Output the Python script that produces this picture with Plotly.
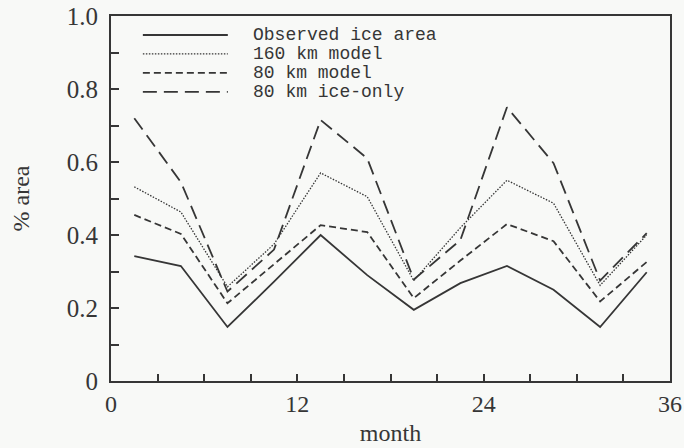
import plotly.graph_objects as go

months = [1.5, 4.5, 7.5, 10.5, 13.5, 16.5, 19.5, 22.5, 25.5, 28.5, 31.5, 34.5]
observed = [0.342, 0.315, 0.148, 0.272, 0.400, 0.290, 0.195, 0.268, 0.315, 0.250, 0.148, 0.298]
model_160 = [0.532, 0.463, 0.258, 0.375, 0.570, 0.505, 0.275, 0.420, 0.550, 0.487, 0.262, 0.400]
model_80 = [0.455, 0.403, 0.213, 0.320, 0.427, 0.408, 0.227, 0.330, 0.430, 0.383, 0.218, 0.326]
ice_only_80 = [0.720, 0.545, 0.245, 0.360, 0.715, 0.610, 0.278, 0.386, 0.750, 0.597, 0.275, 0.405]

series_names = ["Observed ice area", "160 km model", "80 km model", "80 km ice-only"]
x_tick_vals = list(range(0, 37, 3))
x_tick_text = [str(v) if v % 12 == 0 else "" for v in x_tick_vals]
y_tick_vals = [i / 10 for i in range(0, 11)]
y_tick_text = ["0", "", "0.2", "", "0.4", "", "0.6", "", "0.8", "", "1.0"]

ink = "#363636"
styles = [
    dict(color=ink, width=1.8, dash="solid"),
    dict(color=ink, width=1.3, dash="1.5px,1.5px"),
    dict(color=ink, width=1.8, dash="7px,4px"),
    dict(color=ink, width=1.8, dash="14px,7px"),
]
values = [observed, model_160, model_80, ice_only_80]

fig = go.Figure()
for name, vals, st in zip(series_names, values, styles):
    fig.add_trace(go.Scatter(x=months, y=vals, mode="lines", name=name,
                             line=st, showlegend=False))

# manual legend (long line samples as in the reference)
legend_y = [0.948, 0.896, 0.844, 0.792]
for name, st, ly in zip(series_names, styles, legend_y):
    fig.add_shape(type="line", xref="paper", yref="paper",
                  x0=0.057, x1=0.209, y0=ly, y1=ly, line=st)
    fig.add_annotation(xref="paper", yref="paper", x=0.252, y=ly,
                       text=name, showarrow=False, xanchor="left", yanchor="middle",
                       height=18, borderpad=0,
                       font=dict(family="Liberation Mono, Courier New, monospace",
                                 size=18, color=ink))

serif = "Liberation Serif, Times New Roman, serif"
fig.update_layout(
    width=684, height=448,
    margin=dict(l=111, r=14, t=16, b=67),
    paper_bgcolor="#f8f9f7", plot_bgcolor="#f8f9f7",
    font=dict(family=serif, size=24, color=ink),
    xaxis=dict(range=[0, 36], tickvals=x_tick_vals, ticktext=x_tick_text,
               ticks="inside", ticklen=7, tickwidth=1.5, tickcolor=ink,
               showline=True, linecolor=ink, linewidth=2, mirror=True,
               showgrid=False, zeroline=False, automargin=False,
               ticklabeloverflow="allow",
               tickfont=dict(size=24, family=serif, color=ink),
               title=dict(text="month", font=dict(size=24, family=serif, color=ink), standoff=8)),
    yaxis=dict(range=[0, 1.0], tickvals=y_tick_vals, ticktext=y_tick_text,
               ticks="inside", ticklen=8, tickwidth=1.5, tickcolor=ink,
               showline=True, linecolor=ink, linewidth=2, mirror=True,
               showgrid=False, zeroline=False, ticklabelstandoff=6, automargin=False,
               ticklabeloverflow="allow",
               tickfont=dict(size=25, family=serif, color=ink),
               title=dict(text="% area", font=dict(size=24, family=serif, color=ink), standoff=30)),
)

fig.write_html("out.html",
               config={"displayModeBar": False},
               post_script="document.body.style.margin='0';document.body.style.overflow='hidden';")
